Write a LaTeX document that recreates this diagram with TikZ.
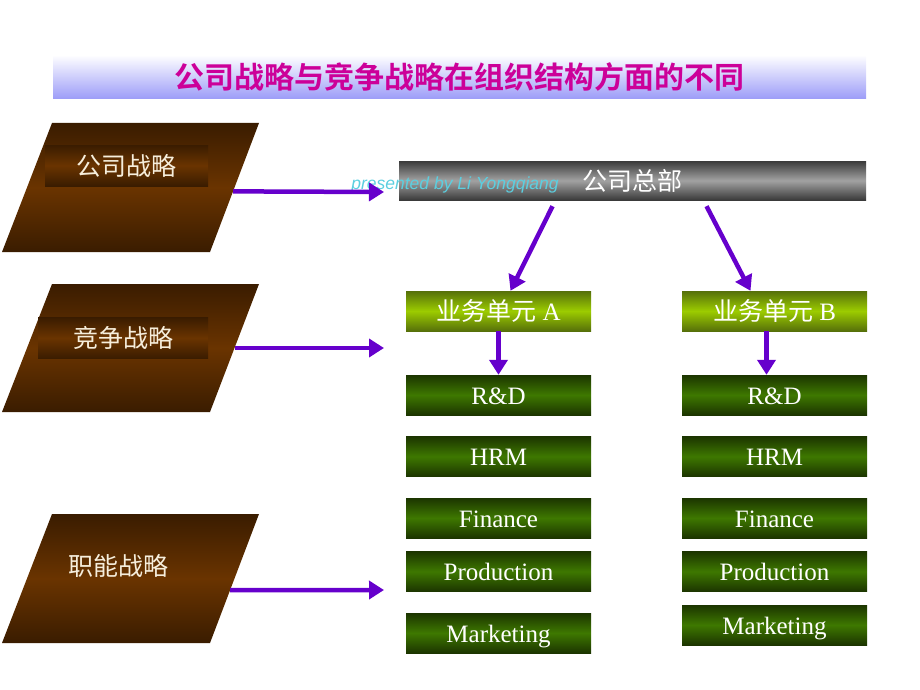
\documentclass[tikz,border=0pt]{standalone}
\usepackage{fontspec}
\setmainfont{Liberation Serif}
\newfontfamily\cjk{Noto Sans CJK SC}
\newfontfamily\cjkbold{Noto Sans CJK SC Bold}
\newfontfamily\sansfont{Liberation Sans}
\usetikzlibrary{arrows.meta}
\usetikzlibrary{calc}

\definecolor{flowpurple}{HTML}{6600CC}
\definecolor{titlemagenta}{HTML}{CC0099}
\definecolor{titlelavender}{HTML}{9C9CF8}
\definecolor{browndark}{HTML}{3A1C00}
\definecolor{brownmid}{HTML}{6A3400}
\definecolor{cream}{HTML}{F6EEDC}
\definecolor{graydark}{HTML}{3A3A3A}
\definecolor{graymid}{HTML}{A2A2A2}
\definecolor{olivedark}{HTML}{56700A}
\definecolor{olivemid}{HTML}{9CCC00}
\definecolor{greendark}{HTML}{1C3500}
\definecolor{greenmid}{HTML}{3E7800}
\definecolor{signcyan}{HTML}{5CCFE0}

\tikzset{
  strategy/.style={top color=browndark, bottom color=browndark, middle color=brownmid},
  stratlabel/.style={rectangle, inner sep=0, minimum height=41,
    top color=browndark, bottom color=browndark, middle color=brownmid,
    text=cream, font=\fontsize{25}{25}\selectfont\cjk},
  hqbox/.style={rectangle, inner sep=0, minimum width=467, minimum height=39,
    top color=graydark, bottom color=graydark, middle color=graymid,
    text=white, font=\fontsize{25}{25}\selectfont\cjk},
  unitbox/.style={rectangle, inner sep=0, minimum width=185, minimum height=40,
    text height=22pt, text depth=4pt,
    top color=olivedark, bottom color=olivedark, middle color=olivemid,
    text=white, font=\fontsize{25}{25}\selectfont},
  funcbox/.style={rectangle, inner sep=0, minimum width=185, minimum height=40,
    text height=22pt, text depth=4pt,
    top color=greendark, bottom color=greendark, middle color=greenmid,
    text=white, font=\fontsize{25}{25}\selectfont},
  flow/.style={draw=flowpurple, line width=4.5pt,
    -{Triangle[width=18pt,length=15pt]}, color=flowpurple},
}

\begin{document}
\begin{tikzpicture}[x=1pt,y=-1pt]

    \useasboundingbox (0,0) rectangle (920,690);

    % title
    \node[rectangle, inner sep=0, minimum width=813, minimum height=44,
      top color=white, bottom color=titlelavender,
      text=titlemagenta, font=\fontsize{30}{30}\selectfont\cjkbold]
      (title) at (459.5,77) {公司战略与竞争战略在组织结构方面的不同};

    % strategies
    \shade[strategy] (52,123) coordinate (corpTL)
    -- (259,123) coordinate (corpTR)
    -- (210,252) coordinate (corpBR)
    -- (2,252) coordinate (corpBL)
    -- cycle;
    \node[stratlabel, minimum width=163] (corpLabel) at (126.5,165.5) {公司战略};

    \shade[strategy] (52,284) coordinate (compTL)
    -- (259,284) coordinate (compTR)
    -- (210,412) coordinate (compBR)
    -- (2,412) coordinate (compBL)
    -- cycle;
    \node[stratlabel, minimum width=170] (compLabel) at (123,338) {竞争战略};

    \shade[strategy] (52,514) coordinate (funcTL)
    -- (259,514) coordinate (funcTR)
    -- (210,643) coordinate (funcBR)
    -- (2,643) coordinate (funcBL)
    -- cycle;
    \node[text=cream, font=\fontsize{25}{25}\selectfont\cjk] (funcLabel) at (118,566) {职能战略};

    % headquarters
    \node[hqbox] (hq) at (632.5,180.5) {公司总部};
    \node[text=signcyan, font=\fontsize{17.5}{17.5}\selectfont\sansfont\itshape]
      (sign) at (455,185) {presented by Li Yongqiang};

    % business units
    \node[unitbox] (unitA) at (498.5,311) {{\cjk 业务单元} A};
    \node[unitbox] (unitB) at (774.5,311) {{\cjk 业务单元} B};

    % functions
    \node[funcbox] (rdA) at (498.5,395) {R\&D};
    \node[funcbox] (hrmA) at (498.5,456.5) {HRM};
    \node[funcbox] (finA) at (498.5,518) {Finance};
    \node[funcbox] (prodA) at (498.5,571.5) {Production};
    \node[funcbox] (mktA) at (498.5,633) {Marketing};

    \node[funcbox] (rdB) at (774.5,395) {R\&D};
    \node[funcbox] (hrmB) at (774.5,456.5) {HRM};
    \node[funcbox] (finB) at (774.5,518) {Finance};
    \node[funcbox] (prodB) at (774.5,571.5) {Production};
    \node[funcbox] (mktB) at (774.5,625) {Marketing};

    % arrows
    \coordinate (corpEnd) at (384,192);
    \coordinate (compEnd) at (384,348);
    \coordinate (funcEnd) at (384,590);

    \draw[flow] ($(corpTR)!0.53!(corpBR)$) -- (corpEnd);
    \draw[flow] ($(compTR)!0.5!(compBR)$) -- (compEnd);
    \draw[flow] ($(funcTR)!0.59!(funcBR)$) -- (funcEnd);

    \draw[flow] ([xshift=-80pt,yshift=-6pt]hq.south) -- ([xshift=12pt]unitA.north);
    \draw[flow] ([xshift=74pt,yshift=-6pt]hq.south) -- ([xshift=-24pt]unitB.north);

    \draw[flow] (unitA.south) -- (rdA.north);
    \draw[flow] ([xshift=-8pt]unitB.south) -- ([xshift=-8pt]rdB.north);

\end{tikzpicture}
\end{document}
